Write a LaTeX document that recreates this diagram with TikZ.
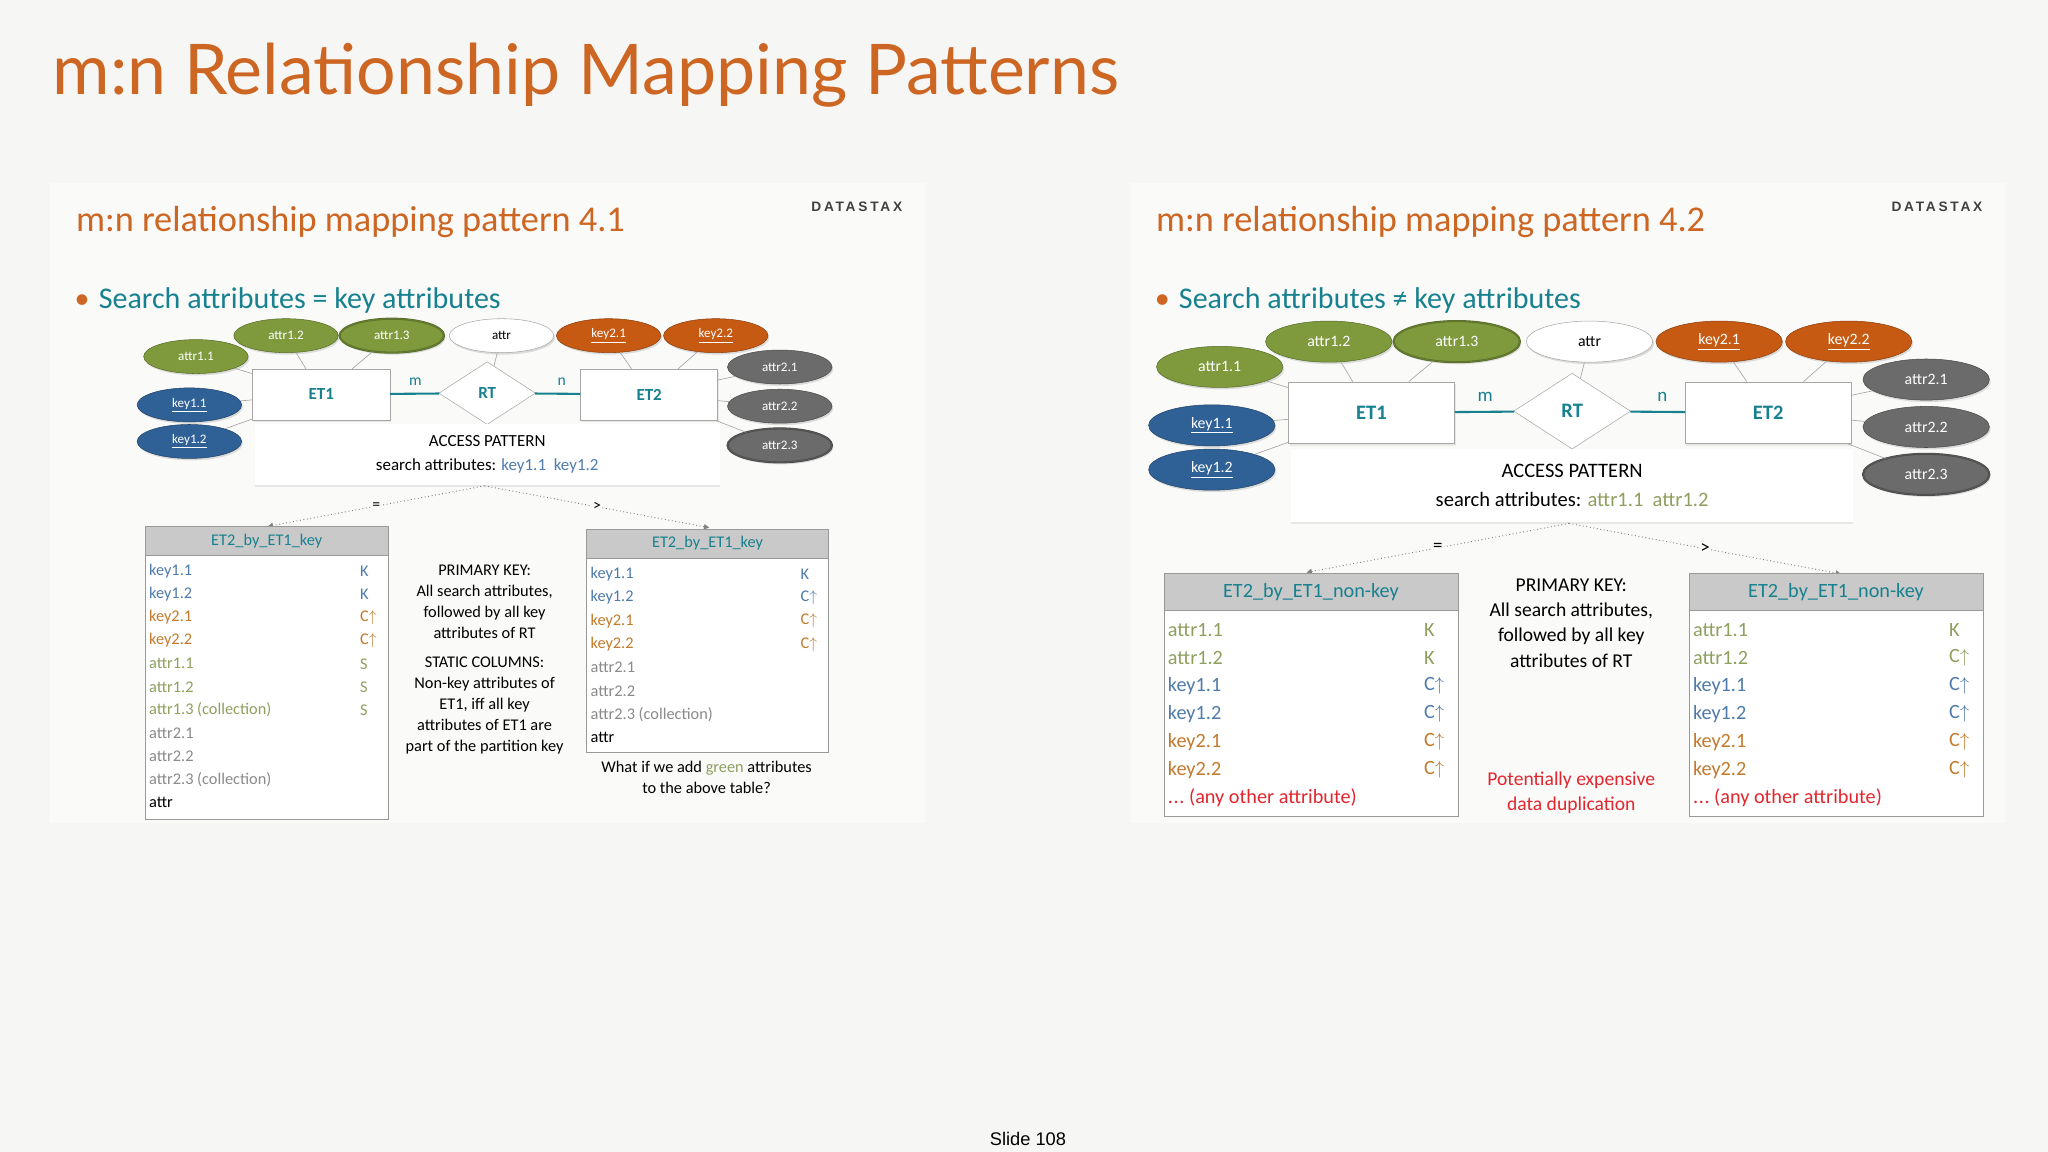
\documentclass[tikz,border=0pt]{standalone}
\usepackage{fontspec}
\setmainfont{Carlito}
\newfontfamily\titlef{Lato}
\newfontfamily\arialf{Liberation Sans}
\newfontfamily\dsf[LetterSpace=20]{Liberation Sans}
\usetikzlibrary{shapes.geometric,arrows.meta,shadows}
\definecolor{slidebg}{HTML}{F6F6F4}
\definecolor{panelbg}{HTML}{FAFAF9}
\definecolor{cOr}{HTML}{CC6622}
\definecolor{cTeal}{HTML}{17818F}
\definecolor{eBlue}{HTML}{2F6196}
\definecolor{eGreen}{HTML}{7E9A3C}
\definecolor{eOrange}{HTML}{C65A13}
\definecolor{eGray}{HTML}{6B6B6B}
\definecolor{cKa}{HTML}{4F7BAA}
\definecolor{cKb}{HTML}{C27A2C}
\definecolor{cAa}{HTML}{8E9F5E}
\definecolor{cAb}{HTML}{8A8A8A}
\definecolor{cRed}{HTML}{E3262E}
\definecolor{hdr}{HTML}{C9C9C9}
\newcommand\tblfont{\fontsize{12}{14}\selectfont}
\newcommand\myanyattr{.\kern0.5pt.\kern0.5pt.\ (any other attribute)}
\newcommand\mytable[9]{%
  \node[draw=gray!80, fill=hdr, minimum width=#4, minimum height=#5, anchor=north west, inner sep=0, text=cTeal, font=\tblfont] (#1h) at (#2,#3) {#8};
  \node[draw=gray!80, fill=white, minimum width=#4, minimum height=#7, anchor=north west, inner sep=0] (#1b) at (#2,{#3+#5}) {};
  \foreach \t/\c/\f [count=\i] in {#9} {
    \node[anchor=west, inner sep=0, text=\c, font=\tblfont] (#1r\i) at ({#2+3},{#3+#5+#6*(\i-0.3)}) {\t};
    \edef\mytmpf{\f}%
    \ifx\mytmpf\empty\else
    \node[anchor=west, inner sep=0, text=\c, font=\tblfont] (#1f\i) at ({#2+0.885*#4},{#3+#5+#6*(\i-0.3)}) {\f};
    \fi
  }%
}
\tikzset{
  x=1pt, y=-1pt,
  ell/.style={ellipse, minimum width=80, minimum height=26, inner sep=0pt, font=\fontsize{10}{12}\selectfont, text=white, draw=#1!70!black, fill=#1, drop shadow={opacity=0.25, shadow xshift=1pt, shadow yshift=-1.5pt}},
  ent/.style={rectangle, minimum width=105, minimum height=39, inner sep=0, fill=white, draw=gray!70, text=cTeal, font=\bfseries\fontsize{13}{15}\selectfont, drop shadow={opacity=0.15, shadow xshift=1pt, shadow yshift=-1.5pt}},
  rel/.style={diamond, minimum width=74, minimum height=48, aspect=1.54, inner sep=0, fill=white, draw=gray!70, text=cTeal, font=\bfseries\fontsize{13}{15}\selectfont},
  lnk/.style={draw=gray!70, line width=0.5pt},
  dts/.style={draw=gray, dotted, line width=0.7pt, -{Triangle[length=4pt,width=4pt]}},
  pics/erd/.style={code={
    \node[ent] (et1) at (0,0) {ET1};
    \node[rel] (rt) at (127,-1) {RT};
    \node[ent] (et2) at (251,0) {ET2};
    \node[ell=eGreen] (a11) at (-96,-29) {attr1.1};
    \node[ell=eGreen] (a12) at (-27,-45) {attr1.2};
    \node[ell=eGreen, double=eGreen!80!black, double distance=0.8pt] (a13) at (54,-45) {attr1.3};
    \node[ell=white, text=black, draw=gray!70] (at) at (138,-45) {attr};
    \node[ell=eOrange] (k21) at (220,-45) {\underline{key2.1}};
    \node[ell=eOrange] (k22) at (302,-45) {\underline{key2.2}};
    \node[ell=eGray] (a21) at (351,-21) {attr2.1};
    \node[ell=eGray] (a22) at (351,9) {attr2.2};
    \node[ell=eGray, double=eGray!80!black, double distance=0.8pt] (a23) at (351,39) {attr2.3};
    \node[ell=eBlue] (k11) at (-101,8) {\underline{key1.1}};
    \node[ell=eBlue] (k12) at (-101,36) {\underline{key1.2}};
    \foreach \e in {a11,a12,a13,k11,k12} \draw[lnk] (\e) -- (et1);
    \foreach \e in {k21,k22,a21,a22,a23} \draw[lnk] (\e) -- (et2);
    \draw[lnk] (at) -- (rt);
    \draw[cTeal, line width=1.6pt] (et1) -- (rt);
    \draw[cTeal, line width=1.6pt] (rt) -- (et2);
    \node[text=cTeal, font=\fontsize{12}{14}\selectfont] (lm) at (72,-10) {m};
    \node[text=cTeal, font=\fontsize{12}{14}\selectfont] (ln) at (184,-10) {n};
    \node[fill=white, minimum width=356, minimum height=46, inner sep=0, drop shadow={opacity=0.15, shadow xshift=0pt, shadow yshift=-2pt}, align=center, font=\fontsize{13}{18}\selectfont] (ap) at (127,46) {ACCESS PATTERN\\search attributes: #1};
    \coordinate (s) at (125,70);
    \coordinate (ta) at (-41,101);
    \coordinate (tb) at (297,102);
    \draw[dts] (s) -- (ta) node[pos=0.5, fill=panelbg, inner sep=1pt, font=\fontsize{12}{14}\selectfont] (eq) {=};
    \draw[dts] (s) -- (tb) node[pos=0.5, fill=panelbg, inner sep=1pt, font=\fontsize{12}{14}\selectfont] (gt) {>};
  }}
}
\begin{document}
\begin{tikzpicture}
\path[use as bounding box, fill=slidebg] (0,0) rectangle (1568,882);
\fill[panelbg] (38,140) rectangle (708,630);
\fill[panelbg] (866,140) rectangle (1535,630);
\node[anchor=base west, inner sep=0, text=cOr, font=\titlef\fontsize{53.5}{60}\selectfont] (title) at (40,72) {m:n Relationship Mapping Patterns};
% left panel
\node[anchor=west, inner sep=0, text=cOr, font=\fontsize{27.8}{32}\selectfont] (st1) at (58,170) {m:n relationship mapping pattern 4.1};
\node[anchor=west, inner sep=0, text=black!75, font=\dsf\bfseries\fontsize{10.5}{12}\selectfont] (ds1) at (621,158) {DATASTAX};
\node[anchor=west, inner sep=0, text=cTeal, font=\fontsize{23}{26}\selectfont] (b1) at (57,230) {\textcolor{cOr}{\textbullet}\hspace{7pt}Search attributes = key attributes};
\pic (L) at (246,302) {erd={\textcolor{cKa}{key1.1\ \ key1.2}}};
\renewcommand\tblfont{\fontsize{12.5}{14}\selectfont}
\mytable{TA}{111}{403}{186}{22}{17.7}{202}{ET2\_by\_ET1\_key}{key1.1/cKa/K, key1.2/cKa/K, key2.1/cKb/C$\uparrow$, key2.2/cKb/C$\uparrow$, attr1.1/cAa/S, attr1.2/cAa/S, attr1.3 (collection)/cAa/S, attr2.1/cAb/, attr2.2/cAb/, attr2.3 (collection)/cAb/, attr/black/}
\mytable{TB}{449}{405}{185}{22}{17.9}{149}{ET2\_by\_ET1\_key}{key1.1/cKa/K, key1.2/cKa/C$\uparrow$, key2.1/cKb/C$\uparrow$, key2.2/cKb/C$\uparrow$, attr2.1/cAb/, attr2.2/cAb/, attr2.3 (collection)/cAb/, attr/black/}
\node[align=center, inner sep=0, font=\fontsize{12.5}{16}\selectfont] (pk1) at (371,461) {PRIMARY KEY:\\All search attributes,\\followed by all key\\attributes of RT};
\node[align=center, inner sep=0, font=\fontsize{12.5}{16}\selectfont] (sc1) at (371,540) {STATIC COLUMNS:\\Non-key attributes of\\ET1, iff all key\\attributes of ET1 are\\part of the partition key};
\node[align=center, inner sep=0, font=\fontsize{12.5}{16}\selectfont] (wq) at (541,595) {What if we add \textcolor{cAa}{green} attributes\\to the above table?};
% right panel
\node[anchor=west, inner sep=0, text=cOr, font=\fontsize{27.8}{32}\selectfont] (st2) at (885,170) {m:n relationship mapping pattern 4.2};
\node[anchor=west, inner sep=0, text=black!75, font=\dsf\bfseries\fontsize{10.5}{12}\selectfont] (ds2) at (1448,158) {DATASTAX};
\node[anchor=west, inner sep=0, text=cTeal, font=\fontsize{23}{26}\selectfont] (b2) at (884,230) {\textcolor{cOr}{\textbullet}\hspace{7pt}Search attributes ≠ key attributes};
\pic[scale=1.21, transform shape] (R) at (1050,316) {erd={\textcolor{cAa}{attr1.1\ \ attr1.2}}};
\renewcommand\tblfont{\fontsize{15.5}{17}\selectfont}
\mytable{TC}{891}{439}{225}{28}{21.5}{158}{ET2\_by\_ET1\_non-key}{attr1.1/cAa/K, attr1.2/cAa/K, key1.1/cKa/C$\uparrow$, key1.2/cKa/C$\uparrow$, key2.1/cKb/C$\uparrow$, key2.2/cKb/C$\uparrow$, \myanyattr/cRed/}
\mytable{TD}{1293}{439}{225}{28}{21.5}{158}{ET2\_by\_ET1\_non-key}{attr1.1/cAa/K, attr1.2/cAa/C$\uparrow$, key1.1/cKa/C$\uparrow$, key1.2/cKa/C$\uparrow$, key2.1/cKb/C$\uparrow$, key2.2/cKb/C$\uparrow$, \myanyattr/cRed/}
\node[align=center, inner sep=0, font=\fontsize{15}{19.5}\selectfont] (pk2) at (1203,477) {PRIMARY KEY:\\All search attributes,\\followed by all key\\attributes of RT};
\node[align=center, inner sep=0, text=cRed, font=\fontsize{15}{19.5}\selectfont] (dup) at (1203,607) {Potentially expensive\\data duplication};
\node[inner sep=0, font=\arialf\fontsize{14}{16}\selectfont] (sl) at (787,872) {Slide 108};
\end{tikzpicture}
\end{document}
